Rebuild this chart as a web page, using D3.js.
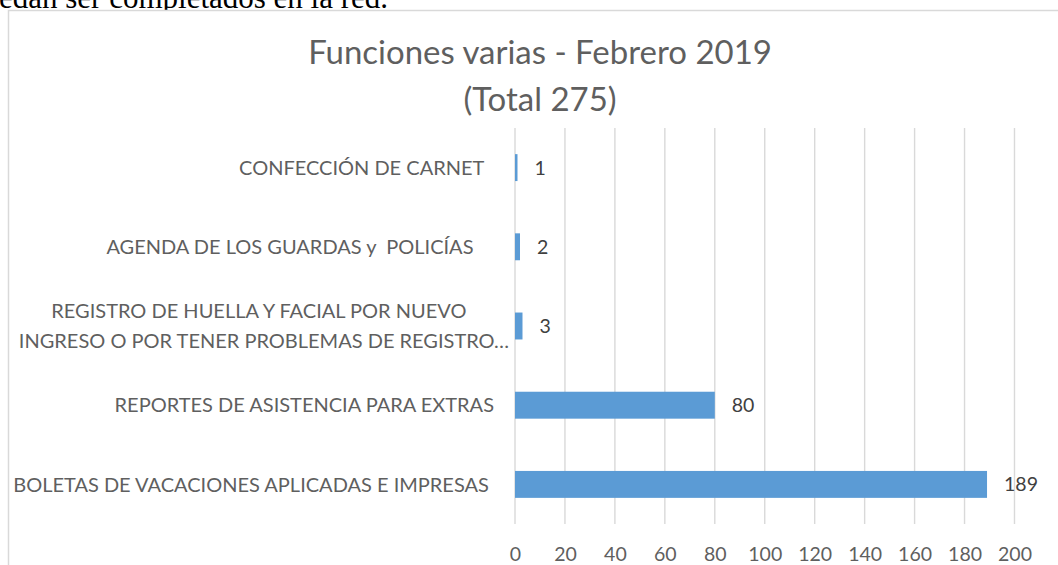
<!DOCTYPE html>
<html><head><meta charset="utf-8">
<script src="https://cdn.jsdelivr.net/npm/d3@7/dist/d3.min.js"></script>
<style>
body{margin:0;background:#fff;overflow:hidden}
svg text{font-family:Lato,"Open Sans",sans-serif;white-space:pre}
</style>
</head><body>
<svg id="c" width="1058" height="565"></svg>
<script>
// ---- data (top-to-bottom order as shown) ----
const categories = [
  "CONFECCIÓN DE CARNET  ",
  "AGENDA DE LOS GUARDAS y  POLICÍAS    ",
  "REGISTRO DE HUELLA Y FACIAL POR NUEVO  \nINGRESO O POR TENER PROBLEMAS DE REGISTRO…",
  "REPORTES DE ASISTENCIA PARA EXTRAS",
  "BOLETAS DE VACACIONES APLICADAS E IMPRESAS "
];
const values = [1, 2, 3, 80, 189];
const tickValues = [0, 20, 40, 60, 80, 100, 120, 140, 160, 180, 200];
const titleLines = ["Funciones varias - Febrero 2019", "(Total 275)"];
const docText = "edan ser completados en la red.";

const svg = d3.select("#c");

// document text fragment above the chart (cut at the top edge, as in the source)
svg.append("text").attr("x", -1).attr("y", 8)
  .style("font-family", "'Liberation Serif','DejaVu Serif',serif")
  .attr("font-size", 31).attr("fill", "#000").text(docText);

// chart border
svg.append("rect").attr("x", 8.5).attr("y", 10.5).attr("width", 1100).attr("height", 600)
  .attr("fill", "#fff").attr("stroke", "#d9d9d9").attr("stroke-width", 1.5);

const x = d3.scaleLinear().domain([0, 200]).range([515, 1014.5]);
const y = d3.scaleBand().domain(categories).range([128, 524]).paddingInner(0.66).paddingOuter(0.33);

function fitSize(textSel, target) {
  const fs = parseFloat(textSel.attr("font-size"));
  const w = textSel.node().getComputedTextLength();
  return fs * target / w;
}

// title
const title = svg.append("g");
const t1 = title.append("text").attr("x", 540).attr("y", 64).attr("text-anchor", "middle")
  .attr("font-size", 34).attr("fill", "#5f5f5f").text(titleLines[0]);
const titleFs = fitSize(t1, 464);
t1.attr("font-size", titleFs);
title.append("text").attr("x", 540).attr("y", 111).attr("text-anchor", "middle")
  .attr("font-size", titleFs).attr("fill", "#5f5f5f").text(titleLines[1]);

// gridlines
svg.append("g").selectAll("line").data(tickValues).join("line")
  .attr("x1", d => x(d)).attr("x2", d => x(d))
  .attr("y1", 128).attr("y2", 524)
  .attr("stroke", "#d9d9d9").attr("stroke-width", 1.4);

// bars
svg.append("g").selectAll("rect").data(values).join("rect")
  .attr("x", x(0)).attr("y", (d, i) => y(categories[i]))
  .attr("width", d => x(d) - x(0)).attr("height", y.bandwidth())
  .attr("fill", "#5b9bd5");

// axis tick labels
const axis = svg.append("g").attr("transform", "translate(0,524)")
  .call(d3.axisBottom(x).tickValues(tickValues).tickSize(0).tickFormat(d3.format("d")));
axis.select(".domain").remove();
axis.selectAll("text").attr("font-size", 21).attr("fill", "#5f5f5f")
  .attr("dy", null).attr("y", 37).style("font-family", null);
const numFs = fitSize(axis.selectAll("text").filter(d => d === 200), 34);
axis.selectAll("text").attr("font-size", numFs).attr("font-family", null);

// value labels
svg.append("g").selectAll("text").data(values).join("text")
  .attr("x", d => x(d) + 17).attr("y", (d, i) => y(categories[i]) + y.bandwidth() / 2)
  .attr("dy", "0.36em").attr("font-size", numFs).attr("fill", "#404040")
  .text(d => d);

// category labels
const catG = svg.append("g");
const probe = catG.append("text").attr("font-size", 22).text(categories[4].trim());
const catFs = fitSize(probe, 476);
probe.remove();
categories.forEach(c => {
  const cy = y(c) + y.bandwidth() / 2;
  const lines = c.split("\n");
  if (lines.length === 1) {
    catG.append("text").attr("x", 494).attr("y", cy).attr("dy", "0.36em")
      .attr("text-anchor", "end").attr("font-size", catFs).attr("fill", "#5f5f5f")
      .attr("xml:space", "preserve").text(c);
  } else {
    lines.forEach((ln, k) => {
      catG.append("text").attr("x", 264).attr("y", cy + (k - (lines.length - 1) / 2) * 30)
        .attr("dy", "0.36em").attr("text-anchor", "middle").attr("font-size", catFs)
        .attr("fill", "#5f5f5f").attr("xml:space", "preserve").text(ln);
    });
  }
});
</script>
</body></html>
